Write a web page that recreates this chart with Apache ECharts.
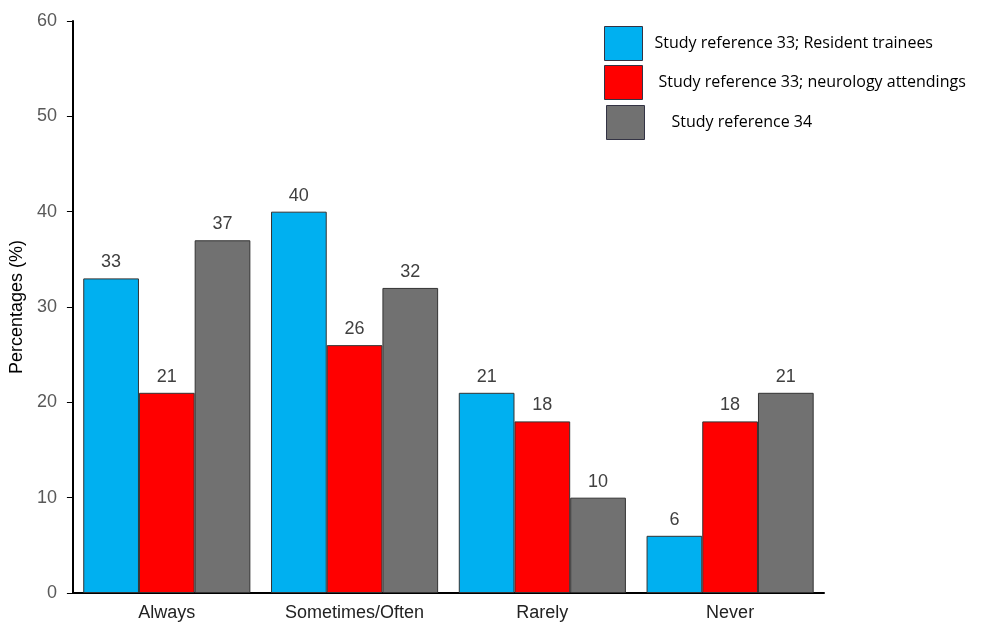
<!DOCTYPE html>
<html>
<head>
<meta charset="utf-8">
<script src="https://cdn.jsdelivr.net/npm/echarts@6/dist/echarts.min.js"></script>
<style>
  html, body { margin: 0; padding: 0; background: #fff; }
  #chart { width: 986px; height: 624px; }
</style>
</head>
<body>
<div id="chart"></div>
<script>
// 数据
const categories = ["Always", "Sometimes/Often", "Rarely", "Never"];
const seriesNames = [
  "Study reference 33; Resident trainees",
  "Study reference 33; neurology attendings",
  "Study reference 34"
];
const residents = [33, 40, 21, 6];
const attendings = [21, 26, 18, 18];
const ref34 = [37, 32, 10, 21];
const colors = ["#00B0F0", "#FF0000", "#717171"];

const chart = echarts.init(document.getElementById("chart"));

function bar(name, data, color) {
  return {
    name: name,
    type: "bar",
    data: data,
    barGap: "0%",
    barCategoryGap: "11%",
    itemStyle: { color: color, borderColor: "#333", borderWidth: 1 },
    label: {
      show: true,
      position: "top",
      distance: 7,
      fontSize: 18,
      color: "#404040",
      fontFamily: "Liberation Sans, Arial"
    },
    animation: false
  };
}

// 图例：三个独立的图例，方便定位
function legendAt(name, left, top, gap) {
  return {
    data: [name],
    left: left,
    top: top,
    itemWidth: 38,
    itemHeight: 34,
    icon: "rect",
    selectedMode: false,
    textStyle: { fontSize: 16, color: "#000", fontFamily: "Open Sans", padding: [0, 0, 0, gap] },
    itemStyle: { borderColor: "#334", borderWidth: 1 }
  };
}

chart.setOption({
  backgroundColor: "#fff",
  grid: { left: 69, top: 21, right: 162, bottom: 31 },
  legend: [
    legendAt(seriesNames[0], 599, 21, 7),
    legendAt(seriesNames[1], 599, 60, 11),
    legendAt(seriesNames[2], 601, 100, 22)
  ],
  xAxis: {
    type: "category",
    data: categories,
    axisLine: { lineStyle: { color: "#000", width: 2 } },
    axisTick: { show: false },
    axisLabel: { fontSize: 18, color: "#222", margin: 11, fontFamily: "Liberation Sans, Arial" }
  },
  yAxis: {
    type: "value",
    min: 0,
    max: 60,
    interval: 10,
    name: "Percentages (%)",
    nameLocation: "middle",
    nameGap: 42,
    nameTextStyle: { fontSize: 18, color: "#000", fontFamily: "Liberation Sans, Arial" },
    axisLine: { show: true, lineStyle: { color: "#000", width: 2 } },
    axisTick: { show: true, length: 6, lineStyle: { color: "#000", width: 1 } },
    axisLabel: { fontSize: 18, color: "#595959", margin: 16, fontFamily: "Liberation Sans, Arial" },
    splitLine: { show: false }
  },
  series: [
    bar(seriesNames[0], residents, colors[0]),
    bar(seriesNames[1], attendings, colors[1]),
    bar(seriesNames[2], ref34, colors[2])
  ]
});
</script>
</body>
</html>
